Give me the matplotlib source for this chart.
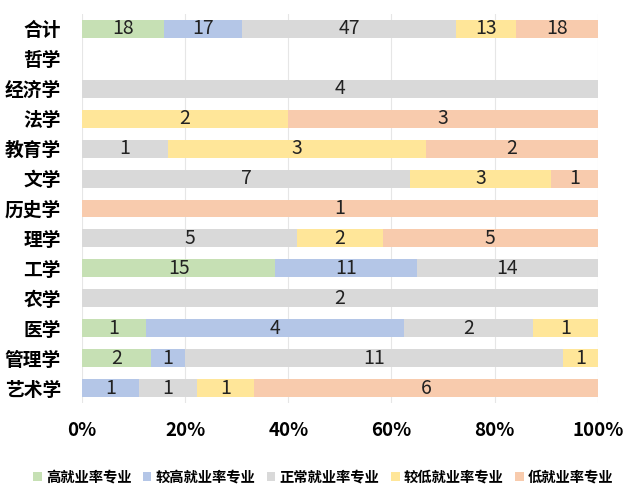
import matplotlib
matplotlib.use("Agg")
import matplotlib.pyplot as plt
import numpy as np

plt.rcParams['font.family'] = ['Noto Sans CJK SC', 'DejaVu Sans']

categories = ['合计', '哲学', '经济学', '法学', '教育学', '文学', '历史学', '理学', '工学', '农学', '医学', '管理学', '艺术学']
series_names = ['高就业率专业', '较高就业率专业', '正常就业率专业', '较低就业率专业', '低就业率专业']
high      = [18, 0, 0, 0, 0, 0, 0, 0, 15, 0, 1, 2, 0]
mid_high  = [17, 0, 0, 0, 0, 0, 0, 0, 11, 0, 4, 1, 1]
normal    = [47, 0, 4, 0, 1, 7, 0, 5, 14, 2, 2, 11, 1]
mid_low   = [13, 0, 0, 2, 3, 3, 0, 2, 0, 0, 1, 1, 1]
low       = [18, 0, 0, 3, 2, 1, 1, 5, 0, 0, 0, 0, 6]
tick_labels = ['0%', '20%', '40%', '60%', '80%', '100%']

colors = ['#c6e0b4', '#b4c6e7', '#d9d9d9', '#ffe699', '#f8cbad']

data = np.array([high, mid_high, normal, mid_low, low], dtype=float)
totals = data.sum(axis=0)
safe = np.where(totals == 0, 1, totals)
pct = data / safe * 100

fig = plt.figure(figsize=(6.4, 5.0), dpi=100)
ax = fig.add_axes([0.128, 0.194, 0.806, 0.778])
y = np.arange(len(categories))
left = np.zeros(len(categories))
for i in range(5):
    ax.barh(y, pct[i], left=left, height=0.6, color=colors[i], label=series_names[i], zorder=2)
    for j in range(len(categories)):
        if data[i, j] > 0:
            ax.text(left[j] + pct[i, j] / 2, y[j], f'{int(data[i, j])}', ha='center', va='center',
                    fontsize=14, color='#222222', zorder=3)
    left += pct[i]

ax.set_xlim(0, 100)
ax.set_ylim(len(categories) - 0.5, -0.5)
ax.set_yticks(y)
ax.set_yticklabels(categories, fontsize=13.5, fontweight='bold')
ax.set_xticks([0, 20, 40, 60, 80, 100])
ax.set_xticklabels(tick_labels, fontsize=13.5, fontweight='bold')
ax.tick_params(axis='both', length=0)
ax.tick_params(axis='x', pad=13)
ax.tick_params(axis='y', pad=15)
for s in ax.spines.values():
    s.set_visible(False)
ax.xaxis.grid(True, color='#e6e6e6', linewidth=0.8, zorder=0)
ax.set_axisbelow(True)

leg = fig.legend(loc='center', bbox_to_anchor=(0.505, 0.045), ncol=5, frameon=False,
                 handlelength=0.6, handleheight=0.6, handletextpad=0.3,
                 columnspacing=0.8, prop={'weight': 'bold', 'size': 10.3})

fig.savefig('out.png', dpi=100)
